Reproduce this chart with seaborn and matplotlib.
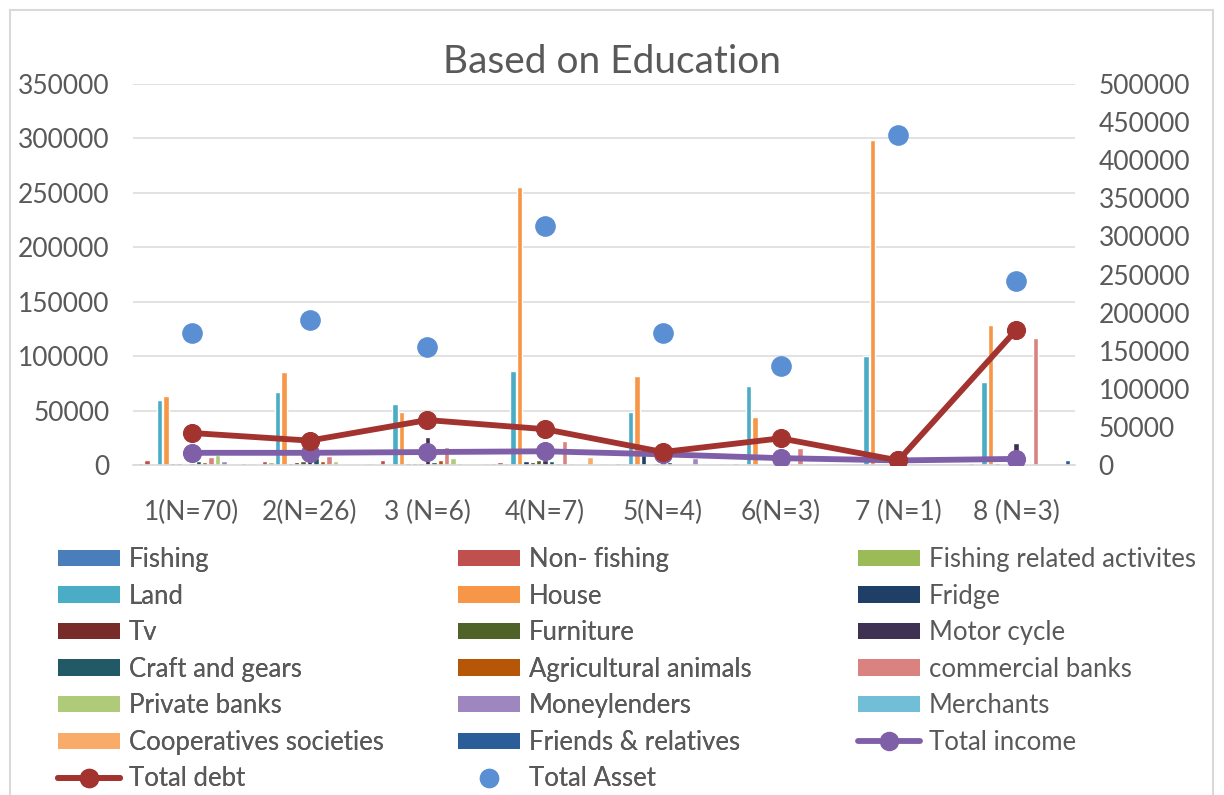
import numpy as np
import pandas as pd
import matplotlib
matplotlib.use("Agg")
import matplotlib.pyplot as plt
import seaborn as sns
from matplotlib.patches import Rectangle
from matplotlib.lines import Line2D
from matplotlib.patches import Patch

# ---------------- data ----------------
groups = ["1(N=70)", "2(N=26)", "3 (N=6)", "4(N=7)", "5(N=4)", "6(N=3)", "7 (N=1)", "8 (N=3)"]

series_names = ["Fishing", "Non- fishing", "Fishing related activites", "Land", "House",
                "Fridge", "Tv", "Furniture", "Motor cycle", "Craft and gears",
                "Agricultural animals", "commercial banks", "Private banks", "Moneylenders",
                "Merchants", "Cooperatives societies", "Friends & relatives"]

fishing = [2000, 1000, 1000, 1500, 1000, 1000, 0, 1000]
non_fishing = [5000, 3500, 4500, 3000, 2000, 1500, 0, 1500]
fishing_related = [1000, 3000, 1000, 2000, 2000, 500, 0, 1000]
land = [60000, 67000, 56000, 86500, 49000, 73000, 100000, 76000]
house = [63000, 85500, 49000, 255000, 82000, 44000, 299000, 129000]
fridge = [1500, 1500, 1500, 4000, 9000, 500, 0, 2000]
tv = [1500, 2500, 1500, 3000, 1000, 500, 0, 1000]
furniture = [1000, 4000, 2000, 4500, 1500, 500, 0, 1000]
motor_cycle = [2000, 5000, 26000, 5000, 3000, 500, 0, 20000]
craft_gears = [4000, 6000, 2500, 4000, 2500, 500, 0, 1000]
agri_animals = [3000, 4000, 5000, 2000, 1000, 0, 0, 1000]
commercial_banks = [7000, 8000, 16500, 22000, 1000, 16000, 0, 117000]
private_banks = [9000, 4000, 6000, 2000, 1000, 0, 0, 0]
moneylenders = [4000, 1000, 1500, 1000, 6000, 1000, 0, 0]
merchants = [1000, 500, 500, 500, 500, 0, 0, 0]
cooperatives = [1000, 1000, 1000, 7000, 500, 0, 0, 0]
friends_relatives = [2000, 500, 500, 500, 500, 0, 0, 4500]

total_income = [16000, 16000, 17000, 18000, 14000, 9000, 6000, 8000]
total_debt = [42000, 32000, 59000, 47000, 17000, 35000, 6000, 177000]
total_asset = [173000, 190000, 155000, 313000, 173000, 130000, 433000, 241000]

bar_colors = ["#4A7EBB", "#C0504D", "#9BBB59", "#4BACC6", "#F79646",
              "#1F3F66", "#772C2A", "#4F6228", "#3F3151", "#215967",
              "#B65708", "#D9827F", "#AFCB7A", "#9E86BE", "#70BFD6",
              "#F9AC6A", "#2B5D98"]
income_color = "#7E5FA8"
debt_color = "#A3332F"
asset_color = "#5B8FD3"
text_color = "#595959"

all_series = [fishing, non_fishing, fishing_related, land, house, fridge, tv, furniture,
              motor_cycle, craft_gears, agri_animals, commercial_banks, private_banks,
              moneylenders, merchants, cooperatives, friends_relatives]

rows = []
for name, vals in zip(series_names, all_series):
    for g, v in zip(groups, vals):
        rows.append({"group": g, "series": name, "value": v})
df = pd.DataFrame(rows)

# ---------------- plot ----------------
sns.set_style("white")
plt.rcParams["font.family"] = ["Lato", "DejaVu Sans"]

fig = plt.figure(figsize=(12.24, 7.95), dpi=100)
ax = fig.add_axes([133/1224, 1-465/795, (1075-133)/1224, (465-84)/795])

sns.barplot(data=df, x="group", y="value", hue="series", order=groups,
            hue_order=series_names, palette=bar_colors, width=0.93, gap=0.15,
            saturation=1, errorbar=None, legend=False, ax=ax, zorder=2)

ax.set_ylim(0, 350000)
ax.set_yticks(np.arange(0, 350001, 50000))
ax.set_xlim(-0.5, len(groups)-0.5)
ax.yaxis.grid(True, color="#DDDDDD", linewidth=1.2, zorder=0)
ax.set_axisbelow(True)
for s in ["top", "left", "right"]:
    ax.spines[s].set_visible(False)
ax.spines["bottom"].set_color("#D9D9D9")
ax.spines["bottom"].set_linewidth(1.2)
ax.set_xlabel("")
ax.set_ylabel("")
ax.tick_params(axis="both", length=0, labelsize=19, colors=text_color)
ax.tick_params(axis="y", pad=17)
ax.tick_params(axis="x", pad=25)

ax2 = ax.twinx()
pos = np.arange(len(groups))
sns.lineplot(x=pos, y=total_income, ax=ax2, color=income_color, linewidth=4.2,
             marker="o", markersize=13, markeredgecolor=income_color, zorder=3)
sns.lineplot(x=pos, y=total_debt, ax=ax2, color=debt_color, linewidth=4.2,
             marker="o", markersize=13, markeredgecolor=debt_color, zorder=4)
sns.scatterplot(x=pos, y=total_asset, ax=ax2, color=asset_color, s=190,
                edgecolor=asset_color, zorder=5)
ax2.set_ylim(0, 500000)
ax2.set_yticks(np.arange(0, 500001, 50000))
for s in ["top", "left", "right", "bottom"]:
    ax2.spines[s].set_visible(False)
ax2.tick_params(axis="y", length=0, labelsize=19, colors=text_color, pad=17)
ax2.set_ylabel("")
ax2.grid(False)
ax2.set_xlim(-0.5, len(groups)-0.5)

fig.text(0.5, 1-62/795, "Based on Education", ha="center", va="center",
         fontsize=28, color=text_color)

# ---------------- legend (row-major in 3 columns) ----------------
handles = [Patch(facecolor=c, edgecolor="none") for c in bar_colors]
labels = list(series_names)
handles.append(Line2D([], [], color=income_color, lw=4.2, marker="o", markersize=13))
labels.append("Total income")
handles.append(Line2D([], [], color=debt_color, lw=4.2, marker="o", markersize=13))
labels.append("Total debt")
handles.append(Line2D([], [], color=asset_color, lw=0, marker="o", markersize=13))
labels.append("Total Asset")

col_x = [58, 458, 858]
for c in range(3):
    idx = list(range(c, len(handles), 3))
    leg = fig.legend([handles[i] for i in idx], [labels[i] for i in idx],
                     loc="upper left", bbox_to_anchor=(col_x[c]/1224, 1-547/795),
                     frameon=False, fontsize=18.5, labelcolor=text_color,
                     handlelength=2.4, handleheight=0.6, handletextpad=0.35,
                     labelspacing=0.45, borderaxespad=0, borderpad=0)
    if c < 2:
        fig.add_artist(leg)

# chart border
fig.add_artist(Rectangle((10/1224, -0.01), 1203/1224, 1-10/795+0.01,
                         transform=fig.transFigure, fill=False,
                         edgecolor="#D9D9D9", linewidth=1.5))

fig.savefig("out.png", dpi=100)
